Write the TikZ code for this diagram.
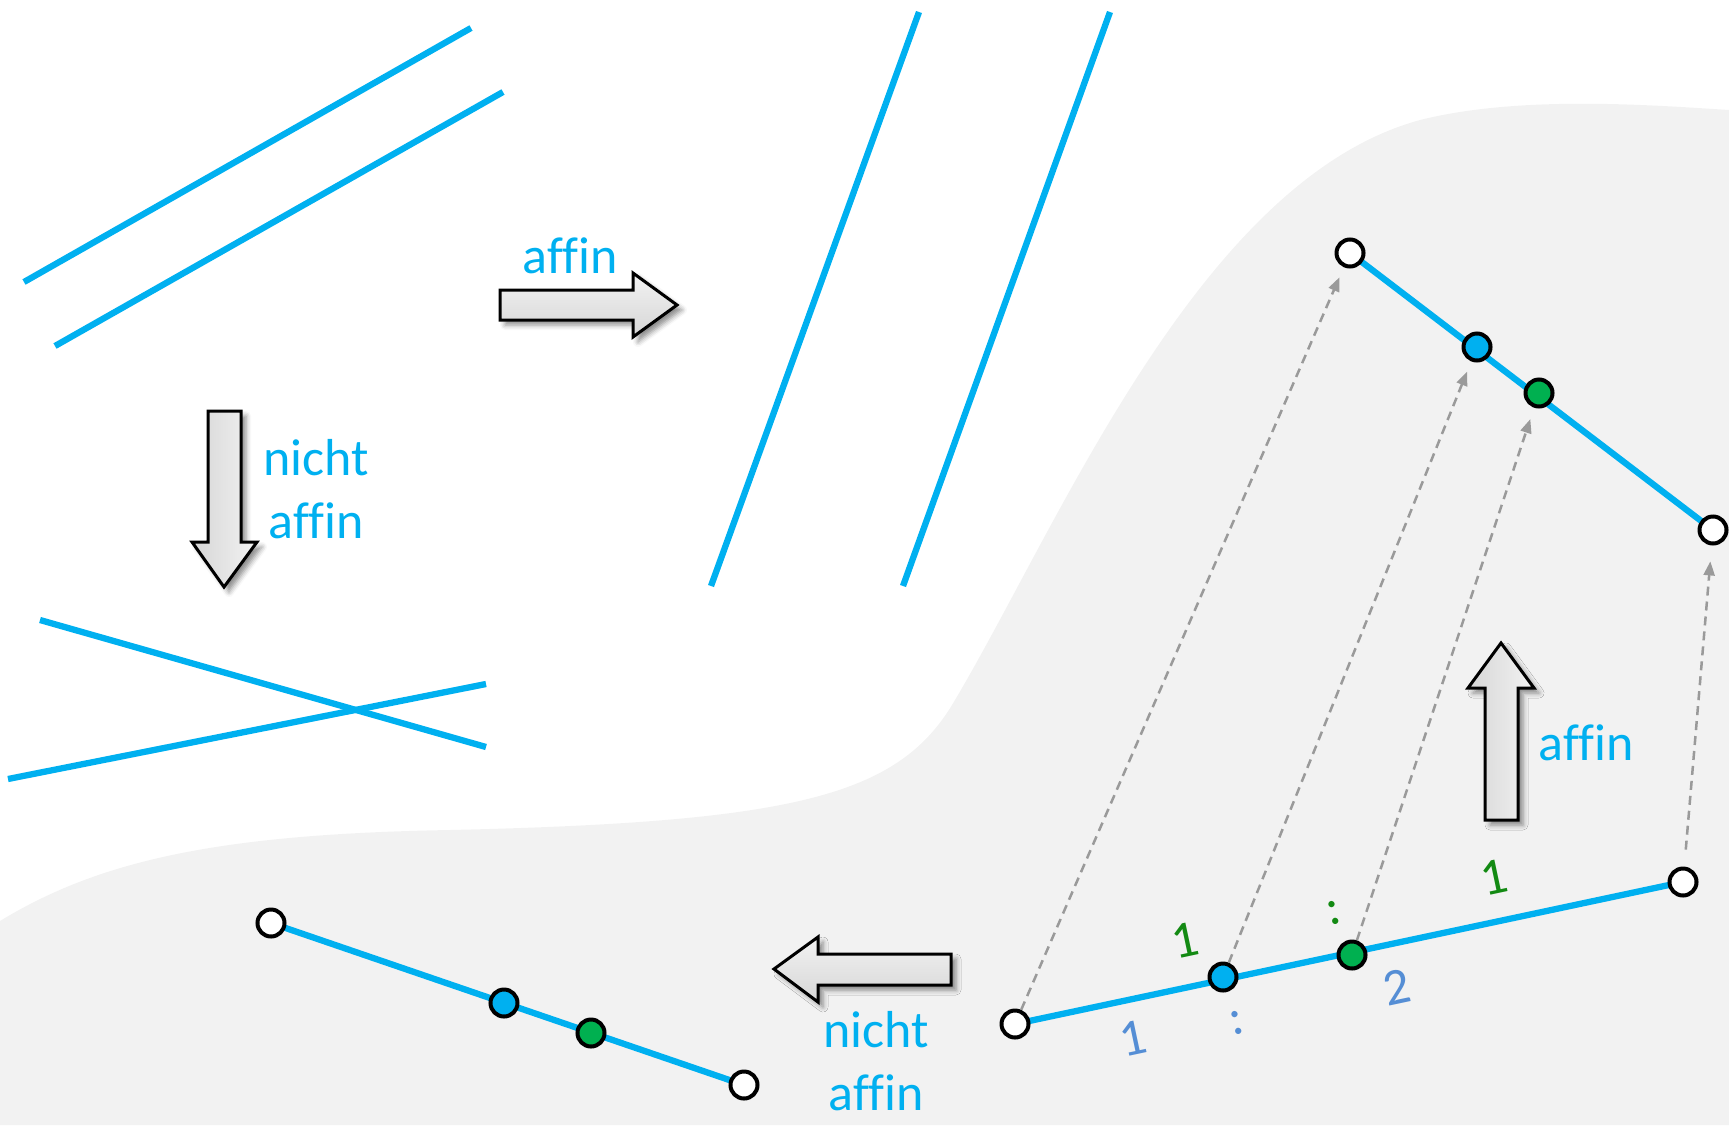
\documentclass[tikz,border=0pt]{standalone}
\usepackage{fontspec}
\setmainfont{Carlito}[Ligatures=CommonOff]
\usetikzlibrary{arrows.meta,shadows.blur}
\definecolor{lblue}{HTML}{00B0F0}
\definecolor{lgreen}{HTML}{00B050}
\definecolor{bggray}{HTML}{F2F2F2}
\definecolor{dgreen}{HTML}{138A13}
\definecolor{tblue}{HTML}{558ED5}
\definecolor{dashgray}{HTML}{9A9A9A}
\begin{document}
\begin{tikzpicture}[x=1pt,y=-1pt,
  segline/.style={lblue, line width=6.3pt},
  pt/.style={circle, draw=black, line width=4pt, minimum size=27pt, inner sep=0pt},
  wpt/.style={pt, fill=white},
  bpt/.style={pt, fill=lblue},
  gpt/.style={pt, fill=lgreen},
  proj/.style={dashgray, line width=2.5pt, dash pattern=on 9pt off 6pt,
    -{Triangle[length=14pt,width=11pt]}},
  blockbase/.style={draw=black, line width=3pt, line join=miter,
    blur shadow={shadow xshift=5pt, shadow yshift=-5pt, shadow blur radius=5pt, shadow opacity=45}},
  hblock/.style={blockbase, top color=gray!10, bottom color=gray!32},
  vblock/.style={blockbase, left color=gray!32, right color=gray!10},
  lbl/.style={text=lblue, font=\fontsize{52}{63}\selectfont, inner sep=0pt},
  num/.style={font=\fontsize{52}{63}\selectfont, inner sep=0pt, rotate=12}
]
\useasboundingbox (0,0) rectangle (1729,1125);

% background blob
\fill[bggray] (0,921) .. controls (100,860) and (220,834) .. (450,830)
  .. controls (800,822) and (900,795) .. (955,700)
  .. controls (1060,523) and (1200,180) .. (1420,120)
  .. controls (1520,95) and (1650,105) .. (1729,110)
  -- (1729,1125) -- (0,1125) -- cycle;

% parallel lines (top left)
\coordinate (a1) at (24,282);  \coordinate (a2) at (471,28);
\coordinate (b1) at (55,346);  \coordinate (b2) at (503,92);
\draw[segline] (a1) -- (a2);
\draw[segline] (b1) -- (b2);

% parallel lines (top middle)
\coordinate (c1) at (711,586); \coordinate (c2) at (919,12);
\coordinate (d1) at (903,586); \coordinate (d2) at (1110,12);
\draw[segline] (c1) -- (c2);
\draw[segline] (d1) -- (d2);

% crossing lines
\coordinate (e1) at (40,620);  \coordinate (e2) at (486,747);
\coordinate (f1) at (8,779);   \coordinate (f2) at (486,684);
\draw[segline] (e1) -- (e2);
\draw[segline] (f1) -- (f2);

% block arrows
\draw[hblock] (500,290) -- (633,290) -- (633,273) -- (677,305) -- (633,337) -- (633,320) -- (500,320) -- cycle;
\node[lbl, anchor=base] (lblA) at (570,273) {affin};

\draw[vblock] (208,411) -- (241,411) -- (241,542) -- (257,542) -- (224,587) -- (192,542) -- (208,542) -- cycle;
\node[lbl, anchor=base] (lblB1) at (316,475) {nicht};
\node[lbl, anchor=base] (lblB2) at (316,538) {affin};

\draw[vblock] (1485,820) -- (1485,688) -- (1468,688) -- (1501,643) -- (1534,688) -- (1518,688) -- (1518,820) -- cycle;
\node[lbl, anchor=base] (lblC) at (1586,760) {affin};

\draw[hblock] (951,954) -- (818,954) -- (818,937) -- (774,969) -- (818,1002) -- (818,985) -- (951,985) -- cycle;
\node[lbl, anchor=base] (lblD1) at (876,1047) {nicht};
\node[lbl, anchor=base] (lblD2) at (876,1110) {affin};

% point positions
\coordinate (cp1) at (1015,1024); \coordinate (cp2) at (1223,977);
\coordinate (cp3) at (1352,955);  \coordinate (cp4) at (1683,882);
\coordinate (cq1) at (1350,253);  \coordinate (cq2) at (1477,347);
\coordinate (cq3) at (1539,393);  \coordinate (cq4) at (1713,530);
\coordinate (cr1) at (271,923);   \coordinate (cr2) at (504,1003);
\coordinate (cr3) at (591,1033);  \coordinate (cr4) at (744,1085);

% segments
\draw[segline] (cp1) -- (cp4);
\draw[segline] (cq1) -- (cq4);
\draw[segline] (cr1) -- (cr4);

% points
\node[wpt] (p1) at (cp1) {};
\node[bpt] (p2) at (cp2) {};
\node[gpt] (p3) at (cp3) {};
\node[wpt] (p4) at (cp4) {};
\node[wpt] (q1) at (cq1) {};
\node[bpt] (q2) at (cq2) {};
\node[gpt] (q3) at (cq3) {};
\node[wpt] (q4) at (cq4) {};
\node[wpt] (r1) at (cr1) {};
\node[bpt] (r2) at (cr2) {};
\node[gpt] (r3) at (cr3) {};
\node[wpt] (r4) at (cr4) {};

% projections
\draw[proj, shorten >=11pt] (p1) -- (q1);
\draw[proj, shorten >=11pt] (p2) -- (q2);
\draw[proj, shorten >=12pt] (p3) -- (q3);
\draw[proj, shorten <=17pt, shorten >=16pt] (p4) -- (q4);

% ratio labels
\node[num, text=dgreen] (g1) at (1185,940) {1};
\node[num, text=dgreen] (g2) at (1334,913) {:};
\node[num, text=dgreen] (g3) at (1494,877) {1};
\node[num, text=tblue] (t1) at (1133,1038) {1};
\node[num, text=tblue] (t2) at (1237,1023) {:};
\node[num, text=tblue] (t3) at (1397,987) {2};
\end{tikzpicture}
\end{document}
